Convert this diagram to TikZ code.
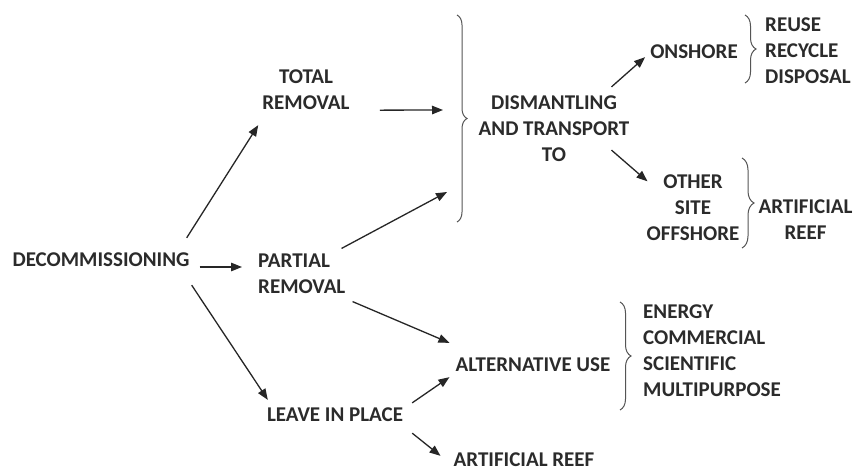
\documentclass[tikz,border=0pt]{standalone}
\usepackage{fontspec}
\setmainfont{Carlito}
\usetikzlibrary{arrows.meta,decorations.pathreplacing}
\definecolor{txt}{HTML}{2B2B2B}
\definecolor{ln}{HTML}{262626}
\definecolor{br}{HTML}{555555}
\begin{document}
\begin{tikzpicture}[x=1pt,y=1pt,
  lbl/.style={inner sep=0pt, font=\fontsize{21}{26}\selectfont\bfseries, text=txt},
  arr/.style={draw=ln, line width=1.3pt, -{Triangle[length=11pt,width=8.5pt]}},
  brc/.style={draw=br, line width=1pt, decorate, decoration={brace, amplitude=#1}},
  brc/.default=10pt]
\fill[white] (0,0) rectangle (856,-474);
\useasboundingbox (0,0) rectangle (856,-474);

% nodes
\node[lbl] (decom) at (101,-260) {DECOMMISSIONING};
\node[lbl, align=center] (total) at (306,-90) {TOTAL\\REMOVAL};
\node[lbl, align=left, anchor=west] (partial) at (258,-273.5) {PARTIAL\\REMOVAL};
\node[lbl] (leave) at (335,-415) {LEAVE IN PLACE};
\node[lbl, align=center] (dism) at (554,-129) {DISMANTLING\\AND TRANSPORT\\TO};
\node[lbl] (onshore) at (694,-52) {ONSHORE};
\node[lbl, align=left, anchor=west] (reuse) at (765,-51) {REUSE\\RECYCLE\\DISPOSAL};
\node[lbl, align=center] (other) at (693,-207.5) {OTHER\\SITE\\OFFSHORE};
\node[lbl, align=center] (artr) at (805.5,-220) {ARTIFICIAL\\REEF};
\node[lbl] (alt) at (533,-365) {ALTERNATIVE USE};
\node[lbl, align=left, anchor=west] (uses) at (643,-351) {ENERGY\\COMMERCIAL\\SCIENTIFIC\\MULTIPURPOSE};
\node[lbl] (artreef) at (524,-460) {ARTIFICIAL REEF};

% braces
\coordinate (bbt) at (457,-15);
\coordinate (bbb) at (457,-222);
\coordinate (bb) at (457,-117);
\draw[brc=10pt] (bbt) -- (bbb);
\coordinate (obt) at (745,-15);
\coordinate (obb) at (745,-83);
\draw[brc=11pt] (obt) -- (obb);
\coordinate (fbt) at (742,-158);
\coordinate (fbb) at (742,-248);
\draw[brc=12pt] (fbt) -- (fbb);
\coordinate (abt) at (620,-302);
\coordinate (abb) at (620,-410);
\draw[brc=11pt] (abt) -- (abb);

% connectors
\draw[arr] ([shift={(-3,15)}]decom.north east) -- ([shift={(-4,-15)}]total.south west);
\draw[arr] ([shift={(10,-7)}]decom.east) -- ([shift={(-16,6.5)}]partial.west);
\draw[arr] ([shift={(2,-18)}]decom.south east) -- ([shift={(1,8)}]leave.north west);
\draw[arr] ([shift={(30,0)}]total.south east) -- ([shift={(-14,7)}]bb);
\draw[arr] ([shift={(-4,5)}]partial.north east) -- ([shift={(-10,-75)}]bb);
\draw[arr] ([shift={(7,-8)}]partial.south east) -- ([shift={(-6,15)}]alt.north west);
\draw[arr] ([shift={(9,5)}]leave.north east) -- ([shift={(-6,-5)}]alt.south west);
\draw[arr] ([shift={(9,-11)}]leave.south east) -- ([shift={(-13,-3)}]artreef.north west);
\draw[arr] ([shift={(-18,9)}]dism.north east) -- ([shift={(-5,2)}]onshore.south west);
\draw[arr] ([shift={(-18,12)}]dism.south east) -- ([shift={(1,-7)}]other.north west);
\end{tikzpicture}
\end{document}
